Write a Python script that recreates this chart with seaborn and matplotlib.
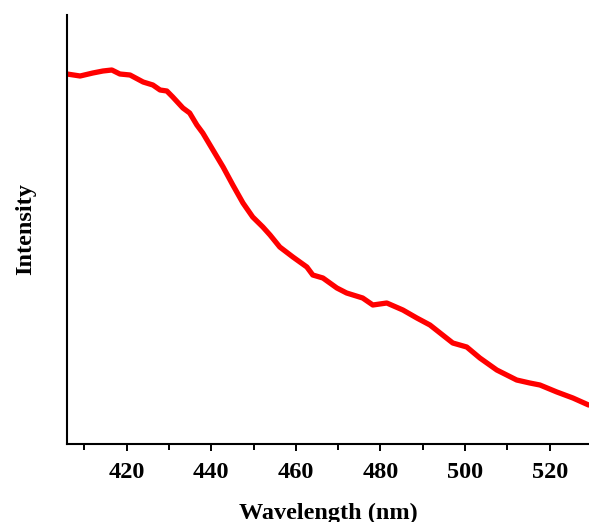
import matplotlib
matplotlib.use("Agg")
import matplotlib.pyplot as plt
from matplotlib.ticker import MultipleLocator, NullLocator
import pandas as pd
import seaborn as sns

# Emission spectrum (arbitrary intensity units)
wavelength = [405.9, 409.0, 412.0, 414.4, 416.5, 418.4, 420.8, 423.9, 426.2, 427.9,
              429.5, 430.9, 433.3, 434.9, 436.6, 438.0, 440.4, 442.8, 445.1, 447.5,
              449.8, 452.2, 453.9, 456.2, 459.3, 462.6, 464.0, 466.4, 469.7, 472.0,
              475.8, 478.2, 481.5, 485.3, 488.6, 491.7, 494.7, 497.1, 500.4, 503.5,
              507.5, 512.2, 515.3, 517.7, 521.7, 525.5, 529.2]
intensity = [370, 368, 371, 373, 374, 370, 369, 362, 359, 354,
             353, 347, 336, 331, 319, 311, 294, 277, 259, 241,
             227, 217, 209, 197, 187, 177, 169, 166, 156, 151,
             146, 139, 141, 134, 126, 119, 109, 101, 97, 86,
             74, 64, 61, 59, 52, 46, 39]

df = pd.DataFrame({"Wavelength": wavelength, "Intensity": intensity})

sns.set_style("ticks")
plt.rcParams["font.family"] = ["Liberation Serif", "DejaVu Serif"]
plt.rcParams["font.weight"] = "bold"
plt.rcParams["text.color"] = "black"
plt.rcParams["axes.labelcolor"] = "black"
plt.rcParams["xtick.color"] = "black"

fig = plt.figure(figsize=(5.89, 5.22), dpi=100)
ax = fig.add_axes([67 / 589, 78 / 522, 522 / 589, 429 / 522])

sns.lineplot(data=df, x="Wavelength", y="Intensity", ax=ax,
             color="#ff0000", linewidth=3.8, solid_joinstyle="round",
             solid_capstyle="round")

ax.set_xlim(405.9, 529.3)
ax.set_ylim(0, 429)

for side in ("top", "right"):
    ax.spines[side].set_visible(False)
for side in ("left", "bottom"):
    ax.spines[side].set_linewidth(1.5)
    ax.spines[side].set_color("black")

ax.xaxis.set_major_locator(MultipleLocator(20))
ax.xaxis.set_minor_locator(MultipleLocator(10))
ax.yaxis.set_major_locator(NullLocator())
ax.tick_params(axis="x", which="major", direction="out", length=5, width=1.4,
               labelsize=17.5, pad=8, color="black", labelcolor="black")
ax.tick_params(axis="x", which="minor", direction="out", length=4, width=1.4,
               color="black")
for lbl in ax.get_xticklabels():
    lbl.set_fontweight("bold")

ax.set_xlabel("Wavelength (nm)", fontsize=17.5, fontweight="bold", labelpad=14.5,
              color="black")
ax.set_ylabel("Intensity", fontsize=17.5, fontweight="bold", labelpad=22,
              color="black")

fig.savefig("out.png", dpi=100)
